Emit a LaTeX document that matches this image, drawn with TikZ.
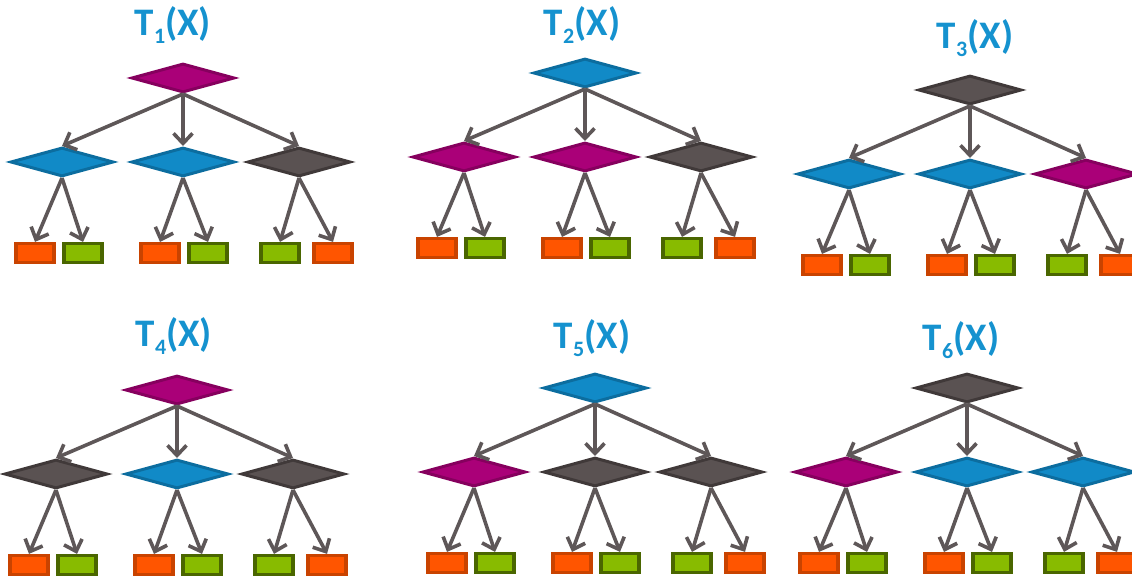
\documentclass[tikz,border=0pt]{standalone}
\usepackage{fontspec}
\setmainfont{Carlito}
\usetikzlibrary{shapes.geometric,arrows.meta}
\definecolor{lila}{HTML}{AA0078}
\definecolor{lilarand}{HTML}{86005E}
\definecolor{blau}{HTML}{118AC7}
\definecolor{blaurand}{HTML}{0C6D9F}
\definecolor{grau}{HTML}{5A5252}
\definecolor{graurand}{HTML}{403939}
\definecolor{orange}{HTML}{FF5500}
\definecolor{orangerand}{HTML}{C94300}
\definecolor{gruen}{HTML}{88BB00}
\definecolor{gruenrand}{HTML}{4A6600}
\definecolor{pfeilgrau}{HTML}{5E5758}
\definecolor{titelblau}{HTML}{1592CF}
% Index im Titel
\newcommand\tief[1]{\raisebox{-8pt}{\fontsize{22}{22}\selectfont#1}}
\tikzset{
  raute/.style={diamond,aspect=3.4,inner sep=0pt,
    minimum width=103pt,minimum height=29pt,
    line width=3pt,fill=#1,draw=#1rand},
  blatt/.style={rectangle,inner sep=0pt,
    minimum width=38pt,minimum height=19pt,% Blaetter
    line width=3.2pt,fill=#1,draw=#1rand},
  pfeil/.style={draw=pfeilgrau,line width=3.6pt,
    -{Straight Barb[length=10pt,width=19pt]}},
  titel/.style={anchor=base,text=titelblau,
    font=\fontsize{39}{45}\selectfont\bfseries}
}
\begin{document}
\begin{tikzpicture}[x=1pt,y=-1pt]
\useasboundingbox (0,0) rectangle (1132,577);
% Baeume: Nummer/Wurzel x/y/Titel x/y/Farben
\foreach \t/\x/\y/\tx/\ty/\w/\a/\b/\c in {
    1/183/78/173/36/lila/blau/blau/grau,
    2/585/73/582/36/blau/lila/lila/grau,
    3/970/90/975/49/grau/blau/blau/lila,
    4/177/390/174/346/lila/grau/blau/grau,
    5/595/388/592/348/blau/lila/grau/grau,
    6/967/388/961/350/grau/lila/blau/blau}{
  \node[titel] (t\t) at (\tx,\ty) {T\tief{\t}(X)};
  \node[raute=\w] (w\t) at (\x,\y) {};
  % mittlere Ebene
  \node[raute=\a] (a\t) at ([xshift=-121pt,yshift=-84pt]w\t) {};
  \node[raute=\b] (b\t) at ([yshift=-84pt]w\t) {};
  \node[raute=\c] (c\t) at ([xshift=116pt,yshift=-84pt]w\t) {};
  % Blaetter
  \foreach \i/\dx/\f in {1/-148/orange,2/-100/gruen,3/-23/orange,
                         4/25/gruen,5/97/gruen,6/150/orange}
    \node[blatt=\f] (l\t-\i) at ([xshift=\dx pt,yshift=-175pt]w\t) {};
  % Verbindungen
  \foreach \k in {a,b,c}
    \draw[pfeil] (w\t.south) -- (\k\t.north);
  \foreach \k/\i/\j in {a/1/2,b/3/4,c/5/6}{
    \draw[pfeil] (\k\t.south) -- (l\t-\i.north);
    \draw[pfeil] (\k\t.south) -- (l\t-\j.north);
  }
}
\end{tikzpicture}
\end{document}
